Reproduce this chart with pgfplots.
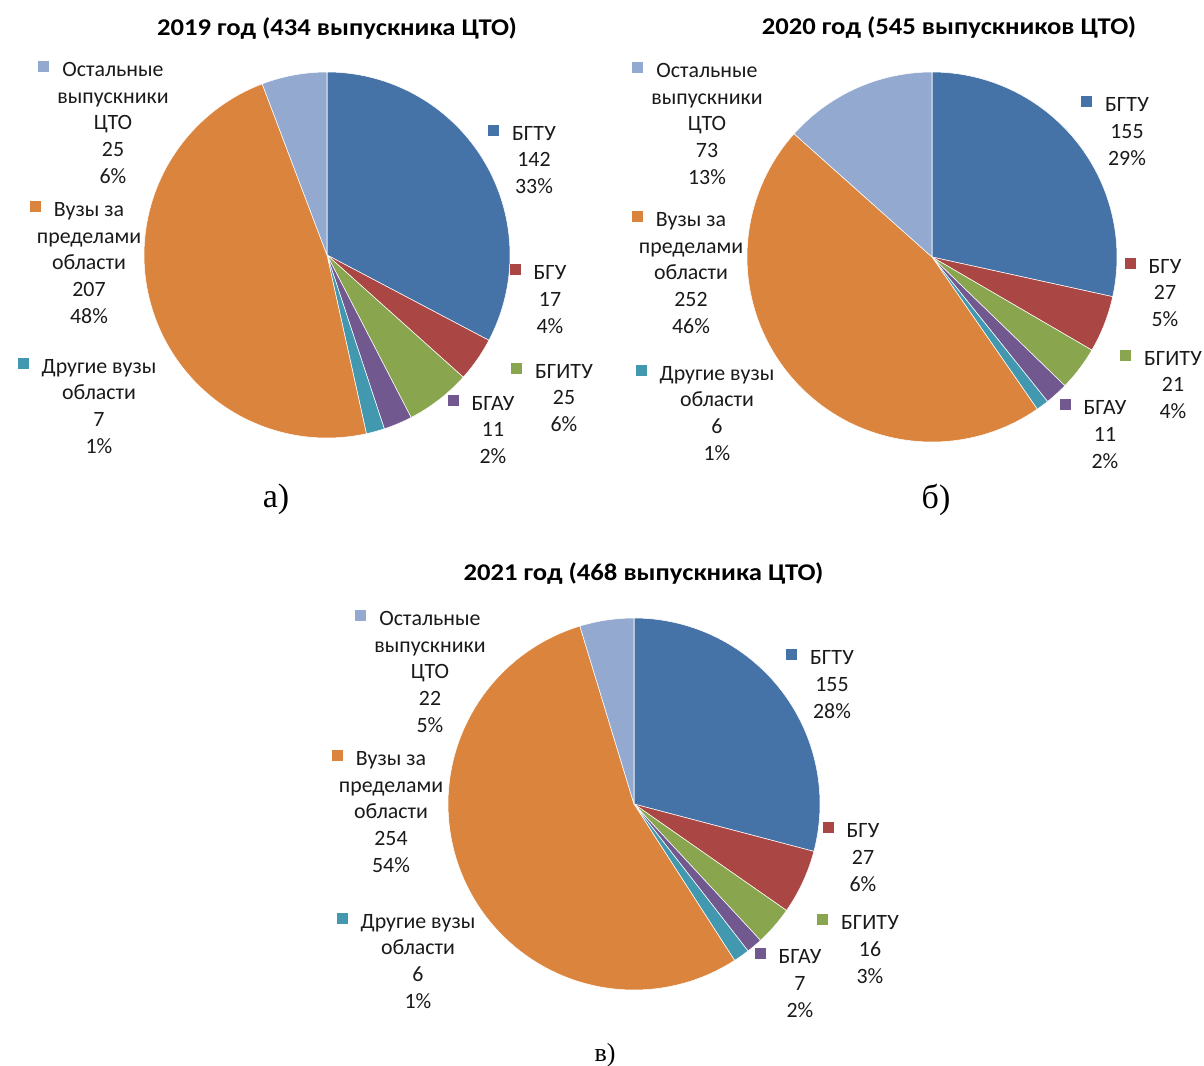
\documentclass[border=0pt]{standalone}
\usepackage{graphicx}
\usepackage{pgfplots}
\pgfplotsset{compat=1.18}
\usepackage{fontspec}
\setmainfont{Carlito}
\newfontfamily\capfont{Liberation Serif}

\definecolor{cBGTU}{HTML}{4572A7}
\definecolor{cBGU}{HTML}{AA4643}
\definecolor{cBGITU}{HTML}{89A54E}
\definecolor{cBGAU}{HTML}{71588F}
\definecolor{cOth}{HTML}{4198AF}
\definecolor{cOut}{HTML}{DB843D}
\definecolor{cRest}{HTML}{93A9CF}
\definecolor{txt}{HTML}{1A1A1A}

\newcommand\lbl{\fontsize{16.4}{19.9}\selectfont}
\newcommand\ttl{\fontsize{18}{21}\selectfont\bfseries}
\newcommand\charttitle[1]{\scalebox{1.11}[1]{#1}}

% pie sectors: #1 total, #2 list value/colour, clockwise from the top
\newcommand\pie[2]{%
  \xdef\cum{0}%
  \foreach \v/\col in {#2}{%
    \pgfmathsetmacro\a{90-\cum/#1*360}%
    \pgfmathsetmacro\n{\cum+\v}%
    \pgfmathsetmacro\b{90-\n/#1*360}%
    \edef\temp{\noexpand\addplot[fill=\col,draw=white,line width=0.4pt,domain=\b:\a,samples=90] ({cos(x)},{sin(x)}) -- (axis cs:0,0) -- cycle;}%
    \temp
    \xdef\cum{\n}%
  }%
}

% label: x, baseline of the LAST line, colour, text
\newcommand\lab[4]{\node[anchor=base,align=center,font=\lbl,text=txt,inner sep=0pt] at (#1,#2) {\llap{\textcolor{#3}{\rule[3.4pt]{8.2pt}{8.2pt}}\hspace{9.75pt}}#4};}

\pgfplotsset{piestyle/.style={anchor=center,scale only axis,hide axis,xmin=-1,xmax=1,ymin=-1,ymax=1,clip=false}}

\begin{document}
\begin{tikzpicture}[x=0.75pt,y=-0.75pt]
\useasboundingbox (0,0) rectangle (1204,1065);

% ---------- 2019 ----------
\begin{axis}[piestyle,at={(245.25pt,-191.25pt)},width=274.5pt,height=274.5pt]
\pie{434}{142/cBGTU,17/cBGU,25/cBGITU,11/cBGAU,7/cOth,207/cOut,25/cRest}
\end{axis}
\node[anchor=base,font=\ttl,text=black] at (337,35) {\charttitle{2019 год (434 выпускника ЦТО)}};
\lab{113}{183}{cRest}{Остальные\\выпускники\\ЦТО\\25\\6\%}
\lab{534}{193.5}{cBGTU}{БГТУ\\142\\33\%}
\lab{89}{323}{cOut}{Вузы за\\пределами\\области\\207\\48\%}
\lab{550}{333}{cBGU}{БГУ\\17\\4\%}
\lab{564}{431.5}{cBGITU}{БГИТУ\\25\\6\%}
\lab{493}{463.5}{cBGAU}{БГАУ\\11\\2\%}
\lab{99}{453}{cOth}{Другие вузы\\области\\7\\1\%}
\node[anchor=base,font=\capfont\fontsize{25.5}{30}\selectfont] at (276,507) {а)};

% ---------- 2020 ----------
\begin{axis}[piestyle,at={(699pt,-192.75pt)},width=277.5pt,height=277.5pt]
\pie{545}{155/cBGTU,27/cBGU,21/cBGITU,11/cBGAU,6/cOth,252/cOut,73/cRest}
\end{axis}
\node[anchor=base,font=\ttl,text=black] at (949,34) {\charttitle{2020 год (545 выпускников ЦТО)}};
\lab{707}{184}{cRest}{Остальные\\выпускники\\ЦТО\\73\\13\%}
\lab{1127}{165}{cBGTU}{БГТУ\\155\\29\%}
\lab{691}{333}{cOut}{Вузы за\\пределами\\области\\252\\46\%}
\lab{1165}{326.5}{cBGU}{БГУ\\27\\5\%}
\lab{1173}{418.5}{cBGITU}{БГИТУ\\21\\4\%}
\lab{1105}{468}{cBGAU}{БГАУ\\11\\2\%}
\lab{717}{460}{cOth}{Другие вузы\\области\\6\\1\%}
\node[anchor=base,font=\capfont\fontsize{25.5}{30}\selectfont] at (936,508) {б)};

% ---------- 2021 ----------
\begin{axis}[piestyle,at={(475.5pt,-603pt)},width=279pt,height=279pt]
\pie{100}{29.1/cBGTU,5.6/cBGU,3.4/cBGITU,1.4/cBGAU,1.4/cOth,54.4/cOut,4.7/cRest}
\end{axis}
\node[anchor=base,font=\ttl,text=black] at (643.5,580) {\charttitle{2021 год (468 выпускника ЦТО)}};
\lab{430}{732}{cRest}{Остальные\\выпускники\\ЦТО\\22\\5\%}
\lab{832}{718}{cBGTU}{БГТУ\\155\\28\%}
\lab{391}{872}{cOut}{Вузы за\\пределами\\области\\254\\54\%}
\lab{863}{891}{cBGU}{БГУ\\27\\6\%}
\lab{870}{983}{cBGITU}{БГИТУ\\16\\3\%}
\lab{800}{1017}{cBGAU}{БГАУ\\7\\2\%}
\lab{418}{1008}{cOth}{Другие вузы\\области\\6\\1\%}
\node[anchor=base,font=\capfont\fontsize{19.5}{24}\selectfont] at (605,1061) {в)};
\end{tikzpicture}
\end{document}
